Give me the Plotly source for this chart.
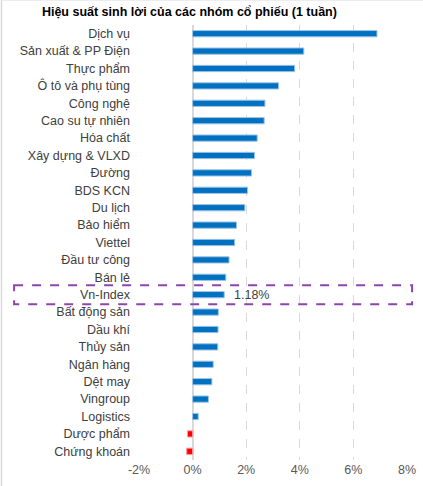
import plotly.graph_objects as go

title = "Hiệu suất sinh lời của các nhóm cổ phiếu (1 tuần)"
categories = ["Dịch vụ", "Sản xuất & PP Điện", "Thực phẩm", "Ô tô và phụ tùng", "Công nghệ",
              "Cao su tự nhiên", "Hóa chất", "Xây dựng & VLXD", "Đường", "BDS KCN", "Du lịch",
              "Bảo hiểm", "Viettel", "Đầu tư công", "Bán lẻ", "Vn-Index", "Bất động sản",
              "Dầu khí", "Thủy sản", "Ngân hàng", "Dệt may", "Vingroup", "Logistics",
              "Dược phẩm", "Chứng khoán"]
values = [6.88, 4.15, 3.81, 3.21, 2.70, 2.67, 2.41, 2.31, 2.20, 2.05, 1.95, 1.64, 1.57,
          1.36, 1.24, 1.18, 0.96, 0.95, 0.94, 0.77, 0.72, 0.59, 0.21, -0.19, -0.22]
tick_vals = [-2, 0, 2, 4, 6, 8]
tick_text = ["-2%", "0%", "2%", "4%", "6%", "8%"]
highlight = "Vn-Index"

FONT = "Liberation Sans, Arial, sans-serif"
fill = ["#0070C0" if v >= 0 else "#FF0000" for v in values]
edge = ["#9DC3E6" if v >= 0 else "#FF9999" for v in values]

fig = go.Figure(go.Bar(
    x=values, y=categories, orientation="h",
    marker=dict(color=fill, line=dict(color=edge, width=1)),
    width=0.36, hoverinfo="x+y",
))

hi = categories.index(highlight)
hv = values[hi]

fig.add_annotation(x=hv, y=highlight, xref="x", yref="y", text=f"{hv:.2f}%",
                   showarrow=False, xanchor="left", xshift=8,
                   font=dict(family=FONT, size=12.5, color="#404040"))

# highlight box around Vn-Index row
fig.add_shape(type="rect", xref="paper", yref="y",
              x0=-0.466, x1=1.019, y0=hi - 0.55, y1=hi + 0.55,
              line=dict(color="#8E44AD", width=2, dash="dash"), fillcolor="rgba(0,0,0,0)")

# light frame edges
fig.add_shape(type="line", xref="paper", yref="paper", x0=-0.513, x1=-0.513, y0=-0.06, y1=1.06,
              line=dict(color="#D9D9D9", width=1.5))
fig.add_shape(type="line", xref="paper", yref="paper", x0=-0.513, x1=1.06, y0=1.057, y1=1.057,
              line=dict(color="#E6E6E6", width=1))

fig.update_layout(
    width=423, height=486,
    margin=dict(l=139, r=16, t=25, b=26, autoexpand=False),
    paper_bgcolor="white", plot_bgcolor="white",
    showlegend=False,
    font=dict(family=FONT, size=12.5, color="#404040"),
    title=dict(text=f"<b>{title}</b>", x=0.099, xanchor="left", y=0.977, yanchor="middle",
               font=dict(family=FONT, size=12.5, color="#000000")),
    xaxis=dict(range=[-2, 8], tickvals=tick_vals, ticktext=tick_text, automargin=False,
               showgrid=True, gridcolor="#D9D9D9", griddash="dash", gridwidth=1,
               zeroline=True, zerolinecolor="#D9D9D9", zerolinewidth=2,
               showline=False, ticks="", tickfont=dict(size=12.5, color="#595959")),
    yaxis=dict(categoryorder="array", categoryarray=categories, autorange="reversed",
               automargin=False,
               showgrid=False, zeroline=False, showline=False, ticks="",
               ticklabelstandoff=8, tickfont=dict(size=12.5, color="#404040")),
    bargap=0.64,
)

fig.write_html("out.html", config={"displayModeBar": False},
               post_script="document.body.style.margin='0';document.body.style.overflow='hidden';")
